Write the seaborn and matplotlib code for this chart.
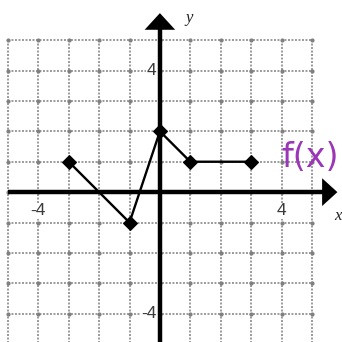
import numpy as np
import pandas as pd
import seaborn as sns
import matplotlib.pyplot as plt

# puntos de f(x)
x_vals = [-3, -1, 0, 1, 3]
y_vals = [1, -1, 2, 1, 1]

# rejilla y etiquetas
grid_vals = list(range(-5, 6))
tick_pos = [-4, 4]
tick_text = ["-4", "4"]

df = pd.DataFrame({"x": x_vals, "y": y_vals})

sns.set_style("white")
fig = plt.figure(figsize=(3.42, 3.42), dpi=100)
ax = fig.add_axes([0, 0, 1, 1])
ax.set_xlim(-5.26, 5.99)
ax.set_ylim(-4.93, 6.32)
ax.axis("off")

# rejilla punteada
ax.vlines(grid_vals, -5, 5, colors="#9a9a9a", linestyles=(0, (1, 0.8)), lw=1.4, zorder=1)
ax.hlines(grid_vals, -5, 5, colors="#9a9a9a", linestyles=(0, (1, 0.8)), lw=1.4, zorder=1)
gx, gy = np.meshgrid(grid_vals, grid_vals)
ax.scatter(gx.ravel(), gy.ravel(), s=9, color="#808080", zorder=1, linewidths=0)

# ejes con flechas
ax.plot([-5, 5.5], [0, 0], color="black", lw=3.2, zorder=3, solid_capstyle="butt")
ax.plot([0, 0], [-4.93, 5.4], color="black", lw=3.2, zorder=3, solid_capstyle="butt")
ax.annotate("", xy=(5.93, 0), xytext=(5.2, 0),
            arrowprops=dict(arrowstyle="-|>,head_length=1.1,head_width=1.0",
                            color="black", lw=0), zorder=4)
ax.annotate("", xy=(0, 5.98), xytext=(0, 5.2),
            arrowprops=dict(arrowstyle="-|>,head_length=1.2,head_width=1.1",
                            color="black", lw=0), zorder=4)

# etiquetas de los ejes
for p, t in zip(tick_pos, tick_text):
    ax.text(p, -0.62, t, ha="center", va="center", fontsize=12.5, color="#3a3a3a",
            family="Liberation Sans", zorder=2,
            bbox=dict(facecolor="white", edgecolor="none", pad=0.3))
    ax.text(-0.12, p, t, ha="right", va="center", fontsize=12.5, color="#3a3a3a",
            family="Liberation Sans", zorder=2,
            bbox=dict(facecolor="white", edgecolor="none", pad=0.3))

ax.text(5.85, -0.8, "x", fontsize=12, style="italic", family="Liberation Serif",
        ha="center", va="center", color="#222222")
ax.text(0.95, 5.72, "y", fontsize=12, style="italic", family="Liberation Serif",
        ha="center", va="center", color="#222222")

# la función
sns.lineplot(data=df, x="x", y="y", sort=False, color="black", lw=1.7,
             marker="D", markersize=7.5, markeredgecolor="black", ax=ax, zorder=5)
ax.set_xlabel("")
ax.set_ylabel("")

ax.text(4.95, 1.15, "f(x)", fontsize=24, color="#9b36b7", ha="center", va="center")

fig.savefig("out.png", dpi=100)
